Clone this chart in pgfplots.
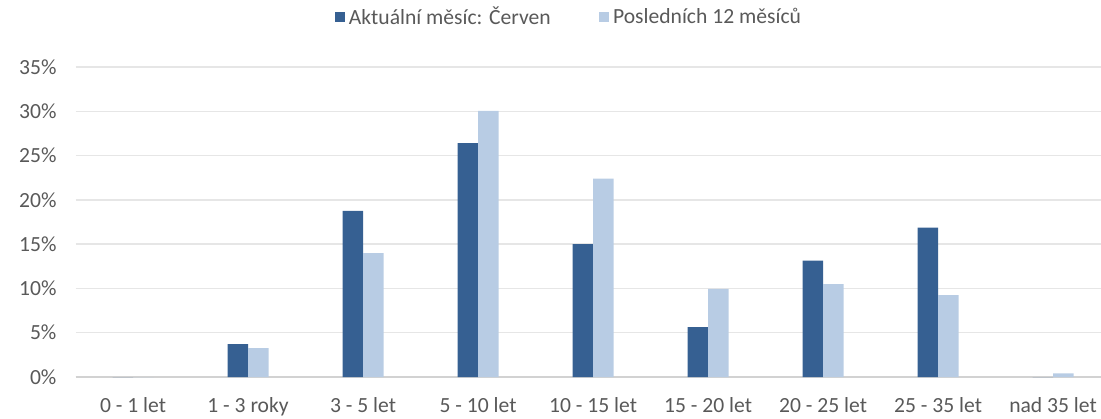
\documentclass[border=0pt]{standalone}
\usepackage{fontspec}
\setmainfont{Carlito}
\usepackage{pgfplots}
\pgfplotsset{compat=1.18}
\definecolor{darkbar}{RGB}{54,96,146}
\definecolor{lightbar}{RGB}{184,204,228}
\definecolor{txt}{RGB}{89,89,89}
\definecolor{gridc}{RGB}{230,230,230}
\definecolor{zeroc}{RGB}{210,210,210}
\begin{document}
\begin{tikzpicture}
\begin{axis}[
  at={(0,0)}, anchor=south west,
  scale only axis,
  width=512.75pt, height=155pt,
  xmin=-0.5, xmax=8.417,
  ymin=0, ymax=35,
  ybar=0pt, bar width=10.25pt,
  xtick={0,...,8},
  xticklabels={0 - 1 let, 1 - 3 roky, 3 - 5 let, 5 - 10 let, 10 - 15 let, 15 - 20 let, 20 - 25 let, 25 - 35 let, nad 35 let},
  ytick={0,5,...,35},
  yticklabel={\pgfmathprintnumber{\tick}\%},
  /pgf/number format/assume math mode=true,
  separate axis lines,
  axis x line*=bottom,
  axis y line*=left,
  x axis line style={draw=zeroc, line width=0.9pt},
  y axis line style={draw=none},
  ymajorgrids, grid style={draw=gridc, line width=0.7pt},
  major tick length=0pt,
  tick label style={font=\fontsize{10.8}{13}\selectfont, text=txt},
  xticklabel style={yshift=-6.5pt},
  yticklabel style={xshift=-6pt},
  legend style={draw=none, fill=none, at={(0.482,1.161)}, anchor=center, legend columns=2,
    font=\fontsize{10.8}{13}\selectfont, text=txt,
    /tikz/every even column/.append style={column sep=22pt}},
  legend image code/.code={\fill[#1] (0pt,-2.6pt) rectangle (5.2pt,2.6pt);},
]
\addplot[fill=darkbar, draw=none] coordinates {(0,0) (1,3.72) (2,18.77) (3,26.4) (4,15.0) (5,5.63) (6,13.15) (7,16.87) (8,0)};
\addplot[fill=lightbar, draw=none] coordinates {(0,0) (1,3.27) (2,14.0) (3,30.05) (4,22.39) (5,9.95) (6,10.5) (7,9.24) (8,0.41)};
\legend{Aktuální měsíc: Červen, Posledních 12 měsíců}
\end{axis}
\pgfresetboundingbox
\path[use as bounding box] ([shift={(-37.75pt,-20.5pt)}]current axis.south west) rectangle ([shift={(512.75pt,188.5pt)}]current axis.south west);
\end{tikzpicture}
\end{document}
